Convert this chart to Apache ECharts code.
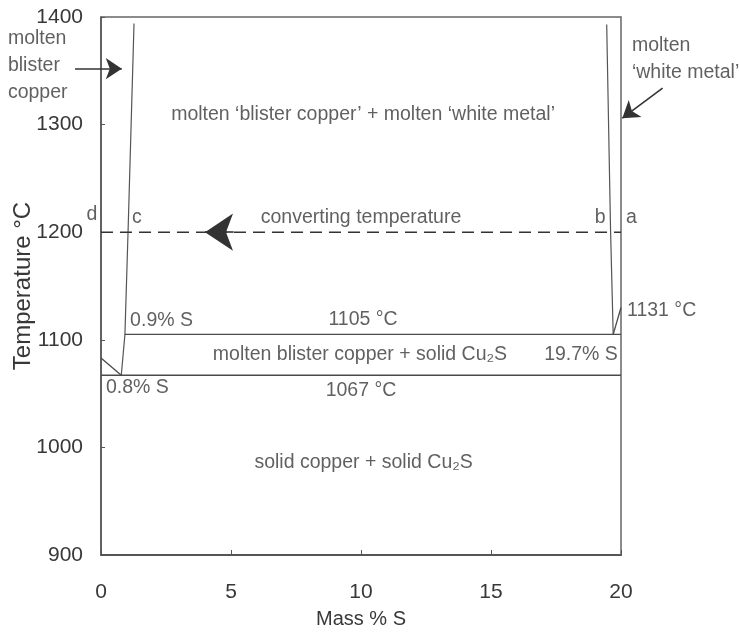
<!DOCTYPE html>
<html><head><meta charset="utf-8">
<script src="https://cdn.jsdelivr.net/npm/echarts@6/dist/echarts.min.js"></script>
<style>html,body{margin:0;padding:0;background:#fff}#c{width:739px;height:632px}</style>
</head><body><div id="c"></div>
<script>
const FONT = "'Liberation Sans Narrow','Liberation Sans',Arial,sans-serif";
const TXT = '#383838';
const LINE = '#4a4a4a';
// axes
const xRange = [0, 20, 5];
const yRange = [900, 1400, 100];
// phase boundaries [mass % S, temperature °C]
const leftLiquidus = [[0.78,1067],[0.92,1105],[1.04,1200],[1.27,1394]];
const rightLiquidus = [[19.7,1105],[19.6,1200],[19.45,1393]];
const copperLiquidus = [[0,1083],[0.78,1067]];
const whiteMetalLiquidus = [[19.7,1105],[20,1130]];
const monotectic = [[0.92,1105],[20,1105]];
const eutectic = [[0,1067],[20,1067]];
const converting = [[0,1200],[20,1200]];
// arrows [from, to]
const convertArrow = [[5.1,1200],[4.0,1200]];
const leftPointer = [[-1.0,1352],[0.8,1352]];
const rightPointer = [[21.6,1334],[20.05,1306]];
// labels: [x, y, text, anchor]  anchor: c=centre, l=left edge, r=right edge
const labels = [
  [-3.58, 1355, 'molten\nblister\ncopper', 'l'],
  [20.42, 1361, 'molten\n\u2018white metal\u2019', 'l'],
  [10.08, 1309, 'molten \u2018blister copper\u2019 + molten \u2018white metal\u2019', 'c'],
  [10.0, 1214, 'converting temperature', 'c'],
  [-0.35, 1216, 'd', 'c'],
  [1.38, 1214, 'c', 'c'],
  [19.2, 1214, 'b', 'c'],
  [20.4, 1214, 'a', 'c'],
  [1.12, 1118, '0.9% S', 'l'],
  [10.08, 1119, '1105 \u00b0C', 'c'],
  [20.23, 1127, '1131 \u00b0C', 'l'],
  [9.96, 1086, 'molten blister copper + solid Cu\u2082S', 'c'],
  [19.88, 1086, '19.7% S', 'r'],
  [0.19, 1056, '0.8% S', 'l'],
  [10.0, 1053, '1067 \u00b0C', 'c'],
  [10.1, 986, 'solid copper + solid Cu\u2082S', 'c']
];

const chart = echarts.init(document.getElementById('c'));
function lineSeries(data, opts) {
  return Object.assign({
    type: 'line', data: data, symbol: 'none', clip: false, silent: true,
    lineStyle: {color: LINE, width: 1.3}
  }, opts || {});
}
function arrowSeries(pair, size) {
  return {
    type: 'lines', coordinateSystem: 'cartesian2d', clip: false, silent: true,
    symbol: ['none', 'arrow'], symbolSize: size,
    lineStyle: {color: '#333', width: 1.6, opacity: 1},
    data: [{coords: pair}]
  };
}
const posMap = {c: 'inside', l: 'right', r: 'left'};
chart.setOption({
  animation: false,
  grid: {left: 101, right: 118, top: 17, bottom: 77, containLabel: false, outerBoundsMode: 'none',
    show: true, borderColor: '#666', borderWidth: 1.5},
  xAxis: {
    type: 'value', min: xRange[0], max: xRange[1], interval: xRange[2],
    name: 'Mass % S', nameLocation: 'middle', nameGap: 54, nameMoveOverlap: false,
    nameTextStyle: {fontFamily: FONT, fontSize: 20, color: TXT},
    axisLine: {show: true, lineStyle: {color: '#555', width: 1.8}},
    axisTick: {show: true, inside: true, length: 5, lineStyle: {color: '#555'}},
    axisLabel: {fontFamily: FONT, fontSize: 21, color: TXT, margin: 27, formatter: v => String(v)},
    splitLine: {show: false}
  },
  yAxis: {
    type: 'value', min: yRange[0], max: yRange[1], interval: yRange[2],
    name: 'Temperature \u00b0C', nameLocation: 'middle', nameGap: 66, nameMoveOverlap: false,
    nameTextStyle: {fontFamily: FONT, fontSize: 24, color: TXT},
    axisLine: {show: true, lineStyle: {color: '#555', width: 1.5}},
    axisTick: {show: true, inside: true, length: 4, lineStyle: {color: '#555'}},
    axisLabel: {fontFamily: FONT, fontSize: 21, color: TXT, margin: 18, formatter: v => String(v)},
    splitLine: {show: false}
  },
  series: [
    lineSeries(leftLiquidus, {lineStyle: {color: '#555', width: 1.2}}),
    lineSeries(rightLiquidus, {lineStyle: {color: '#555', width: 1.2}}),
    lineSeries(copperLiquidus),
    lineSeries(whiteMetalLiquidus),
    lineSeries(monotectic),
    lineSeries(eutectic, {lineStyle: {color: LINE, width: 1.6}}),
    lineSeries(converting, {lineStyle: {color: '#333', width: 1.6, type: [12, 7]}}),
    arrowSeries(convertArrow, [20, 28]),
    arrowSeries(leftPointer, [13, 16]),
    arrowSeries(rightPointer, [13, 16]),
    {
      type: 'scatter', clip: false, silent: true, symbolSize: 0,
      itemStyle: {color: 'transparent'},
      data: labels.map(l => ({
        value: [l[0], l[1]],
        label: {show: true, formatter: l[2], position: posMap[l[3]], distance: 0,
          fontFamily: FONT, fontSize: 19.5, color: TXT, lineHeight: 27}
      }))
    }
  ]
});
</script></body></html>
